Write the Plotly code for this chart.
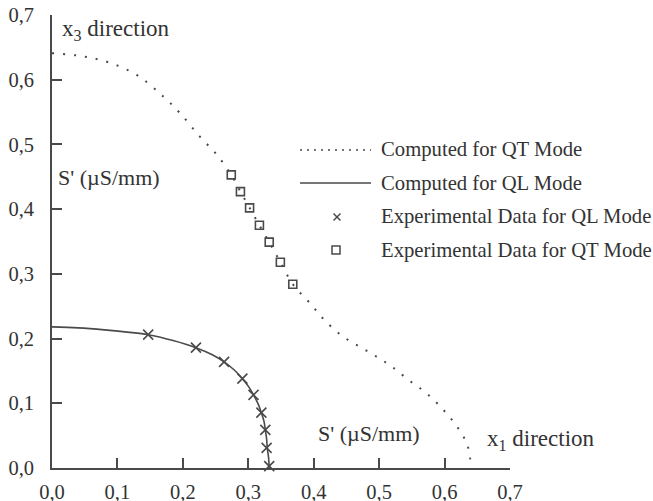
import plotly.graph_objects as go

# Computed QT mode curve (dotted)
qt_curve_x = [0.0, 0.048, 0.089, 0.13, 0.17, 0.196, 0.226, 0.252, 0.274, 0.288, 0.302, 0.317,
              0.332, 0.349, 0.368, 0.394, 0.417, 0.445, 0.471, 0.496, 0.519, 0.545, 0.573,
              0.598, 0.619, 0.634, 0.639, 0.640]
qt_curve_y = [0.641, 0.636, 0.626, 0.607, 0.574, 0.548, 0.512, 0.484, 0.453, 0.427, 0.402, 0.375,
              0.349, 0.318, 0.284, 0.255, 0.228, 0.203, 0.187, 0.172, 0.157, 0.136, 0.115,
              0.090, 0.064, 0.038, 0.015, 0.0]

# Computed QL mode curve (solid)
ql_curve_x = [0.0, 0.04, 0.08, 0.115, 0.147, 0.185, 0.220, 0.245, 0.263, 0.279, 0.291, 0.301,
              0.308, 0.315, 0.320, 0.324, 0.326, 0.328, 0.329, 0.331, 0.332]
ql_curve_y = [0.218, 0.2165, 0.2135, 0.210, 0.206, 0.197, 0.186, 0.175, 0.164, 0.151, 0.138, 0.125,
              0.113, 0.099, 0.0855, 0.072, 0.059, 0.045, 0.031, 0.016, 0.0]

# Experimental data
ql_exp_x = [0.147, 0.220, 0.263, 0.291, 0.308, 0.320, 0.326, 0.328, 0.332]
ql_exp_y = [0.206, 0.186, 0.164, 0.138, 0.113, 0.0855, 0.059, 0.031, 0.003]
qt_exp_x = [0.274, 0.288, 0.302, 0.317, 0.332, 0.349, 0.368]
qt_exp_y = [0.453, 0.427, 0.402, 0.375, 0.349, 0.318, 0.284]

legend_labels = ["Computed for QT Mode", "Computed for QL Mode",
                 "Experimental Data for QL Mode", "Experimental Data for QT Mode"]
tick_vals = [0.0, 0.1, 0.2, 0.3, 0.4, 0.5, 0.6, 0.7]

W, H = 653, 501
L, R, T, B = 52, 510, 15, 468
FONT = "Liberation Serif, Times New Roman, serif"
INK = "#4a4a4a"
TXT = "#333333"


def px(x):
    return (x - L) / (R - L)


def py(y):
    return (B - y) / (B - T)


fig = go.Figure()
fig.add_trace(go.Scatter(x=qt_curve_x, y=qt_curve_y, mode="lines", line_shape="spline",
                         line=dict(color=INK, width=2, dash="2px,9px"), showlegend=False))
fig.add_trace(go.Scatter(x=ql_curve_x, y=ql_curve_y, mode="lines", line_shape="spline",
                         line=dict(color=INK, width=1.6), showlegend=False))
fig.add_trace(go.Scatter(x=ql_exp_x, y=ql_exp_y, mode="markers", cliponaxis=False,
                         marker=dict(symbol="x-thin-open", size=10, color=INK,
                                     line=dict(color=INK, width=1.6)),
                         showlegend=False))
fig.add_trace(go.Scatter(x=qt_exp_x, y=qt_exp_y, mode="markers", cliponaxis=False,
                         marker=dict(symbol="square-open", size=8, color=INK,
                                     line=dict(color=INK, width=1.6)),
                         showlegend=False))

shapes = [
    dict(type="line", xref="paper", yref="paper", x0=px(300), x1=px(371), y0=py(150), y1=py(150),
         line=dict(color=INK, width=1.6, dash="2px,5px")),
    dict(type="line", xref="paper", yref="paper", x0=px(300), x1=px(371), y0=py(183), y1=py(183),
         line=dict(color=INK, width=1.6)),
    dict(type="line", xref="paper", yref="paper", x0=px(333.5), x1=px(340.5), y0=py(213.5), y1=py(220.5),
         line=dict(color=INK, width=1.5)),
    dict(type="line", xref="paper", yref="paper", x0=px(333.5), x1=px(340.5), y0=py(220.5), y1=py(213.5),
         line=dict(color=INK, width=1.5)),
    dict(type="rect", xref="paper", yref="paper", x0=px(332), x1=px(340), y0=py(246), y1=py(254),
         line=dict(color=INK, width=1.5)),
]

annotations = []
for lab, yy in zip(legend_labels, [150, 183, 217, 250]):
    annotations.append(dict(text=lab, xref="paper", yref="paper", x=px(379), y=py(yy),
                            xanchor="left", yanchor="middle", showarrow=False,
                            font=dict(family=FONT, size=20.7, color=TXT)))
annotations += [
    dict(text="x<sub>3</sub> direction", xref="paper", yref="paper", x=px(60), y=py(30),
         xanchor="left", yanchor="middle", showarrow=False, font=dict(family=FONT, size=23, color=TXT)),
    dict(text="S' (µS/mm)", xref="paper", yref="paper", x=px(56), y=py(177),
         xanchor="left", yanchor="middle", showarrow=False, font=dict(family=FONT, size=22, color=TXT)),
    dict(text="S' (µS/mm)", xref="paper", yref="paper", x=px(316), y=py(433),
         xanchor="left", yanchor="middle", showarrow=False, font=dict(family=FONT, size=22, color=TXT)),
    dict(text="x<sub>1</sub> direction", xref="paper", yref="paper", x=px(485), y=py(440),
         xanchor="left", yanchor="middle", showarrow=False, font=dict(family=FONT, size=23, color=TXT)),
]

axis_common = dict(range=[0, 0.7], tickvals=tick_vals, tickformat=".1f", ticks="inside", ticklen=10,
                   tickwidth=1.6, tickcolor=INK, showline=True, linecolor=INK, linewidth=1.8,
                   showgrid=False, zeroline=False, automargin=False,
                   tickfont=dict(family=FONT, size=20.5, color=TXT))

fig.update_layout(
    width=W, height=H, autosize=False,
    margin=dict(l=L, r=W - R, t=T, b=H - B, pad=0),
    paper_bgcolor="white", plot_bgcolor="white",
    separators=",.",
    xaxis=dict(**axis_common, ticklabelstandoff=4),
    yaxis=dict(**axis_common, ticklabelstandoff=12),
    shapes=shapes, annotations=annotations, showlegend=False,
)

fig.write_html("out.html", config={"displayModeBar": False},
               post_script="document.body.style.margin='0';document.body.style.overflow='hidden';")
